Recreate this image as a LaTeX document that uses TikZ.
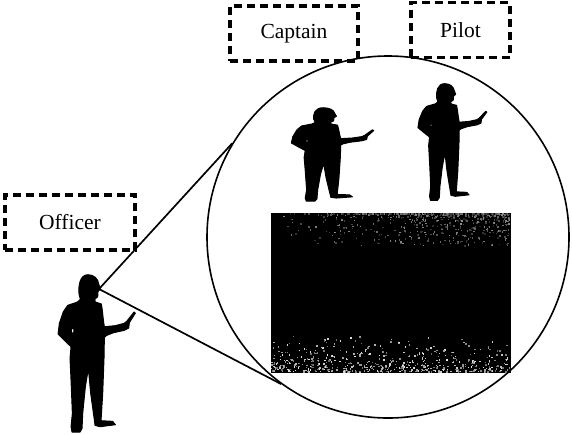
\documentclass[tikz,border=0pt]{standalone}
\usepackage{fontspec}
\setmainfont{Liberation Serif}

\begin{document}
\begin{tikzpicture}
	[x=1pt, y=-1pt,
		tag/.style		={rectangle, draw, line width=3.2pt, dash pattern=on 8pt off 5pt,
								minimum height=55pt, inner sep=0pt,
								font=\fontsize{21.5}{24}\selectfont},
		lens/.style		={circle, draw, line width=1.6pt, minimum size=362pt, inner sep=0pt},
		screen/.style	={rectangle, fill=black, minimum width=240pt, minimum height=160pt,
								inner sep=0pt},
		sight/.style	={draw, line width=1.7pt},
		man/.pic		={
			\filldraw[shift={(-260,-755)}, even odd rule, line width=1pt, line join=round]
				(264,284) to[out=0,in=95] (296,312) -- (301,327) -- (294,334) -- (293,350)
				-- (284,358) -- (286,366) -- (304,372) to[out=-80,in=100] (313,440)
				-- (345,437) -- (372,430) -- (380,424) -- (402,396) -- (406,399)
				-- (388,428) -- (386,444) -- (372,451) -- (340,458) -- (320,466)
				-- (313,472) -- (312,532) -- (308,640) -- (303,722) -- (338,724)
				-- (346,734) -- (300,740) -- (285,736) -- (283,720) -- (272,640)
				-- (265,565) -- (256,620) -- (248,700) -- (246,745) -- (240,756)
				-- (216,756) -- (213,740) -- (217,700) -- (213,600) -- (210,535)
				-- (213,500) -- (194,482) -- (174,462) -- (178,430) -- (190,395)
				-- (203,376) -- (232,366) -- (241,358) -- (237,342)
				to[out=95,in=180] cycle
				% gap between arm and body
				(218,452) ellipse (4 and 8);
		}
	]
\useasboundingbox (0,0) rectangle (572,434);

% labels
\node [tag, minimum width=130pt] (officer tag)	at (70,222.5)	{Officer};
\node [tag, minimum width=128pt] (captain tag)	at (294,33.5)	{Captain};
\node [tag, minimum width=99pt]  (pilot tag)	at (460.4,30.3)	{Pilot};

% magnified view
\node [lens]   (lens)   at (388,237) {};
\node [screen] (screen) at (391,293) {};

\pgfmathsetseed{42}
% grey haze along the top edge
\foreach \k in {1,...,560}{
	\pgfmathsetmacro\sx{271+238*sqrt(rnd)}
	\pgfmathsetmacro\sy{213+32*rnd^2.5}
	\pgfmathsetmacro\g{45+40*rnd}
	\fill [black!\g] (\sx,\sy) rectangle ++(1.5,1.5);
}
% bright grain along the bottom edge
\foreach \k in {1,...,560}{
	\pgfmathsetmacro\sx{271+238*rnd}
	\pgfmathsetmacro\sy{371.5-38*rnd*rnd}
	\pgfmathsetmacro\g{10+50*rnd}
	\fill [black!\g] (\sx,\sy) rectangle ++(1.4,1.4);
}

% people
\pic (officer) [xscale=0.3333, yscale=0.3333] at (86.7,431.7) {man};
\pic (captain) [xscale=0.355,  yscale=0.198]  at (321.9,201)   {man};
\pic (pilot)   [xscale=0.297,  yscale=0.247]  at (443.5,200)   {man};

% line of sight
\coordinate (eye) at (99,289);
\path [sight] (eye) -- (lens.149);
\path [sight] (eye) -- (lens.234);
\end{tikzpicture}
\end{document}
